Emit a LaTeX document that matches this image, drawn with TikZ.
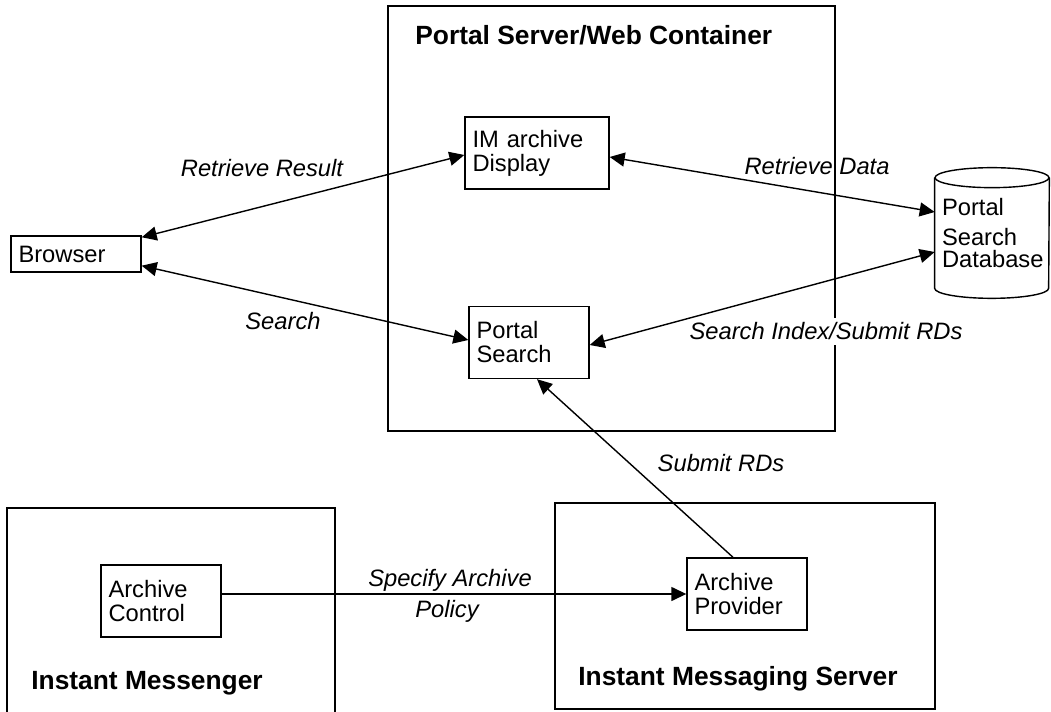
\documentclass[tikz,border=0pt]{standalone}
\usepackage{fontspec}
\setmainfont{Liberation Sans}
\usetikzlibrary{arrows.meta}

\newcommand{\diagfont}{\fontsize{13.5}{13.66}\selectfont}
\newcommand{\diagitfont}{\fontsize{13.5}{13.66}\selectfont\itshape}
\newcommand{\diagbffont}{\fontsize{15}{17}\selectfont\bfseries}

\begin{document}
\begin{tikzpicture}[x=0.02cm, y=-0.02cm,
    box/.style={draw, line width=0.8pt, align=left, inner xsep=0.15cm, minimum height=1.44cm, font=\diagfont},
    lbl/.style={font=\diagitfont, anchor=base, inner sep=0pt},
    ttl/.style={font=\diagbffont, anchor=base west, inner sep=0pt},
    link/.style={line width=0.8pt, {Triangle[length=0.3cm, width=0.28cm]}-{Triangle[length=0.3cm, width=0.28cm]}},
    feed/.style={line width=0.8pt, -{Triangle[length=0.3cm, width=0.28cm]}}]
    \useasboundingbox (0,0) rectangle (1051,712);

    % Portal Server
    \draw[line width=0.8pt] (388,6) rectangle (835,431);
    \node[ttl] (portaltitle) at (415,45) {Portal Server/Web Container};
    \node[box, text width=2.58cm] (display) at (537,153) {IM archive\\Display};
    \node[box, text width=2.1cm] (search) at (529,342.5) {Portal\\Search};

    % Browser
    \node[box, text width=2.3cm, minimum height=0.72cm] (browser) at (76,254) {Browser};

    % Database
    \node[font=\diagfont, align=left, inner xsep=0.14cm, text width=2.0cm, minimum height=2.6cm] (db) at (992,233)
        {Portal\\[0.12cm]Search\\[-0.04cm]Database};
    \draw[line width=0.8pt] ([yshift=-0.2cm]db.north west) -- ([yshift=0.2cm]db.south west)
        arc[start angle=180, end angle=360, x radius=1.14cm, y radius=0.2cm]
        -- ([yshift=-0.2cm]db.north east);
    \draw[line width=0.8pt] ([yshift=-0.2cm]db.north) ellipse[x radius=1.14cm, y radius=0.2cm];

    % Instant Messenger
    \draw[line width=0.8pt] (7,720) |- (335,508) -- (335,720);
    \node[ttl] (imtitle) at (31,689) {Instant Messenger};
    \node[box, text width=2.1cm] (control) at (161,601) {Archive\\Control};

    % Instant Messaging Server
    \draw[line width=0.8pt] (555,503) rectangle (935,709);
    \node[ttl] (imstitle) at (578,685) {Instant Messaging Server};
    \node[box, text width=2.1cm] (provider) at (747,594) {Archive\\Provider};

    % labels
    \node[lbl] (lretres) at (262,177) {Retrieve Result};
    \node[lbl] (lsearch) at (283,330) {Search};
    \node[lbl] (lretdata) at (817,175) {Retrieve Data};
    \node[lbl, fill=white, inner sep=0.1cm] (lindex) at (826,340) {Search Index/Submit RDs};
    \node[lbl] (lsubmit) at (721,472) {Submit RDs};
    \node[lbl] (lspecify) at (450,586) {Specify Archive};
    \node[lbl] (lpolicy) at (447,617) {Policy};

    % connectors
    \draw[link] ([yshift=-0.04cm]browser.north east) -- ([yshift=-0.04cm]display.west);
    \draw[link] ([yshift=0.14cm]browser.south east) -- ([yshift=0.05cm]search.west);
    \draw[link] ([yshift=-0.08cm]display.east) -- ([yshift=0.42cm]db.west);
    \draw[link] ([yshift=-0.05cm]search.east) -- ([yshift=-0.38cm]db.west);
    \draw[feed] ([xshift=-0.28cm]provider.north) -- ([xshift=0.16cm]search.south);
    \draw[feed] (control.east |- provider.west) -- (provider.west);
\end{tikzpicture}
\end{document}
